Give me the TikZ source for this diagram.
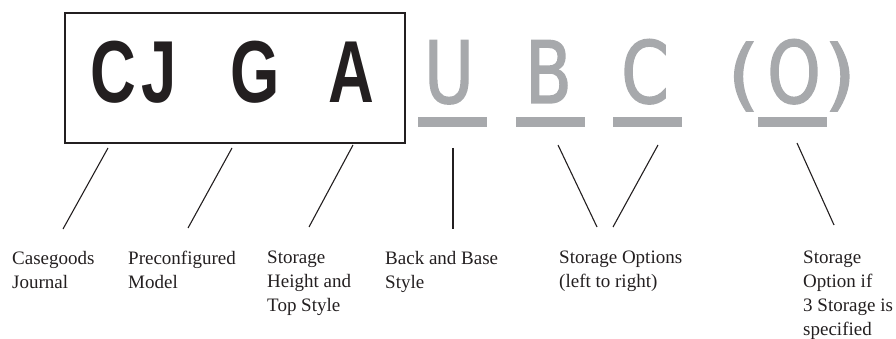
\documentclass[tikz,border=0pt]{standalone}
\usepackage{fontspec}
\setmainfont{Liberation Serif}
\newfontfamily\dinbold[FakeStretch=0.72]{Liberation Sans}
\newfontfamily\dinlight[FakeStretch=0.88,FakeBold=1.6]{DejaVu Sans Condensed}
\usepackage{graphicx}
\usepackage{xcolor}
\usepackage{tikz}
\definecolor{inkblack}{HTML}{231F20}
\definecolor{inkgray}{HTML}{A7A9AC}

\begin{document}
\begin{tikzpicture}[x=1pt, y=-1pt,
  code/.style={anchor=base,inner sep=0pt,text=inkblack,font=\dinbold\bfseries\fontsize{88}{88}\selectfont},
  opt/.style={anchor=base,inner sep=0pt,text=inkgray,font=\dinlight\fontsize{86}{86}\selectfont},
  paren/.style={anchor=base,inner sep=0pt,text=inkgray,font=\dinlight\fontsize{78}{78}\selectfont},
  bar/.style={fill=inkgray,inner sep=0pt,minimum width=69pt,minimum height=10pt},
  lead/.style={draw=inkblack,line width=1.1pt},
  lab/.style={anchor=north west,inner sep=0pt,align=left,text=inkblack,font=\fontsize{19}{24}\selectfont}]
  \useasboundingbox (0,0) rectangle (896,339);
  \node[draw=inkblack,line width=1.8pt,minimum width=340pt,minimum height=130pt,inner sep=0pt] (box) at (235,78) {};
  \foreach \n/\t/\x in {c/C/113, j/J/159.5, g/G/255.5, a/A/351.5} {
    \node[code] (\n) at (\x,103) {\t};
  }
  \foreach \n/\t/\x in {u/U/449, b/B/548.5, s/C/645, o/O/794} {
    \node[opt] (\n) at (\x,103) {\t};
  }
  \node[paren] (lp) at (743.5,101) {\scalebox{1.3}[1]{(}};
  \node[paren] (rp) at (840,101) {\scalebox{1.3}[1]{)}};
  \foreach \n/\x in {u/452.5, b/550, s/647, o/792} {
    \node[bar] (bar\n) at (\x,122) {};
  }
  \foreach \n/\xa/\ya/\xb/\yb in {1/108/148/63/229, 2/232/148/188/228, 3/353/145/309/227,
      4/453/148/453/229, 5/558/145/597/227, 6/658/145/613/227, 7/797/143/834/225} {
    \coordinate (top\n) at (\xa,\ya);
    \coordinate (end\n) at (\xb,\yb);
    \draw[lead] (top\n) -- (end\n);
  }
  \node[lab] (journal) at (12,251) {Casegoods\\Journal};
  \node[lab] (model) at (128,251) {Preconfigured\\Model};
  \node[lab] (height) at (267,251) {Storage\\Height and\\Top Style};
  \node[lab] (back) at (385,251) {Back and Base\\Style};
  \node[lab] (options) at (559,251) {Storage Options\\(left to right)};
  \node[lab] (extra) at (803,251) {Storage\\Option if\\3 Storage is\\specified};
\end{tikzpicture}
\end{document}
